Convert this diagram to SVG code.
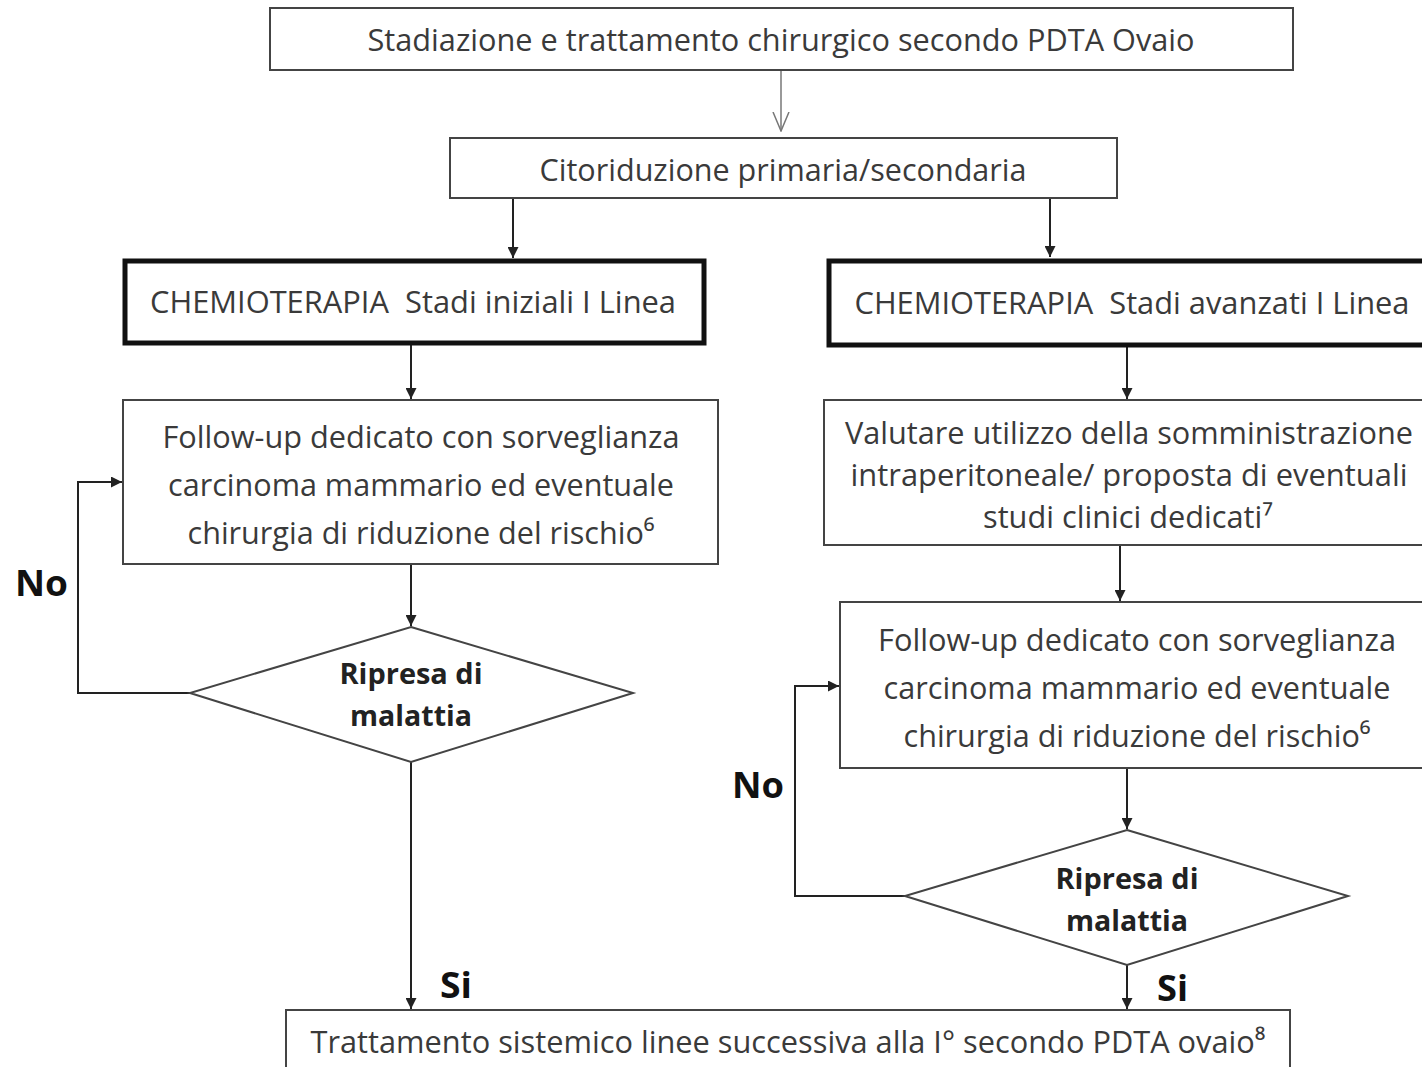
<svg xmlns="http://www.w3.org/2000/svg" width="1422" height="1067" viewBox="0 0 1422 1067">
<defs>
<marker id="arr" viewBox="0 0 10 10" refX="10" refY="5" markerWidth="12" markerHeight="11" markerUnits="userSpaceOnUse" orient="auto">
<path d="M0,0 L10,5 L0,10 z" fill="#222"/>
</marker>
<marker id="open" viewBox="0 0 20 20" refX="19" refY="10" markerWidth="20" markerHeight="20" markerUnits="userSpaceOnUse" orient="auto">
<path d="M0,2 L19,10 L0,18" fill="none" stroke="#777" stroke-width="1.5"/>
</marker>
<style>
.box{fill:#fff;stroke:#444;stroke-width:2}
.thick{fill:#fff;stroke:#111;stroke-width:5}
.t{font-family:"Open Sans","Noto Sans","Liberation Sans",sans-serif;font-size:31px;fill:#3a3a3a;text-anchor:middle}
.b{font-family:"Open Sans","Noto Sans","Liberation Sans",sans-serif;font-size:29px;font-weight:bold;fill:#222;text-anchor:middle}
.lbl{font-family:"Open Sans","Noto Sans","Liberation Sans",sans-serif;font-size:35px;font-weight:bold;fill:#111}
.c{fill:none;stroke:#222;stroke-width:2}
</style>
</defs>
<rect width="1422" height="1067" fill="#fff"/>
<g id="connectors">
<line x1="781" y1="70" x2="781" y2="131" stroke="#777" stroke-width="1.5" marker-end="url(#open)"/>
<line class="c" x1="513" y1="198" x2="513" y2="258" marker-end="url(#arr)"/>
<line class="c" x1="1050" y1="198" x2="1050" y2="257" marker-end="url(#arr)"/>
<line class="c" x1="411" y1="345" x2="411" y2="399" marker-end="url(#arr)"/>
<line class="c" x1="411" y1="564" x2="411" y2="626" marker-end="url(#arr)"/>
<polyline class="c" points="190,693 78,693 78,482 122,482" marker-end="url(#arr)"/>
<line class="c" x1="411" y1="762" x2="411" y2="1009" marker-end="url(#arr)"/>
<line class="c" x1="1127" y1="347" x2="1127" y2="399" marker-end="url(#arr)"/>
<line class="c" x1="1120" y1="545" x2="1120" y2="601" marker-end="url(#arr)"/>
<line class="c" x1="1127" y1="768" x2="1127" y2="829" marker-end="url(#arr)"/>
<polyline class="c" points="905,896 795,896 795,686 839,686" marker-end="url(#arr)"/>
<line class="c" x1="1127" y1="965" x2="1127" y2="1009" marker-end="url(#arr)"/>
</g>
<g id="n-top">
<rect class="box" x="270" y="8" width="1023" height="62"/>
<text class="t" x="781" y="51" textLength="827" lengthAdjust="spacingAndGlyphs">Stadiazione e trattamento chirurgico secondo PDTA Ovaio</text>
</g>
<g id="n-citoriduzione">
<rect class="box" x="450" y="138" width="667" height="60"/>
<text class="t" x="783" y="181" textLength="487" lengthAdjust="spacingAndGlyphs">Citoriduzione primaria/secondaria</text>
</g>
<g id="n-chemio-iniziali">
<rect class="thick" x="125" y="261" width="579" height="82"/>
<text class="t" x="413" y="313" textLength="526" lengthAdjust="spacingAndGlyphs" xml:space="preserve">CHEMIOTERAPIA  Stadi iniziali I Linea</text>
</g>
<g id="n-chemio-avanzati">
<rect class="thick" x="829" y="261" width="600" height="84"/>
<text class="t" x="1132" y="314" textLength="555" lengthAdjust="spacingAndGlyphs" xml:space="preserve">CHEMIOTERAPIA  Stadi avanzati I Linea</text>
</g>
<g id="n-followup-left">
<rect class="box" x="123" y="400" width="595" height="164"/>
<text class="t" x="421" y="448" textLength="517" lengthAdjust="spacingAndGlyphs">Follow-up dedicato con sorveglianza</text>
<text class="t" x="421" y="496" textLength="506" lengthAdjust="spacingAndGlyphs">carcinoma mammario ed eventuale</text>
<text class="t" x="421" y="544" textLength="467" lengthAdjust="spacingAndGlyphs">chirurgia di riduzione del rischio⁶</text>
</g>
<g id="n-diamond-left">
<polygon points="411,627 633,693 411,762 190,693" fill="#fff" stroke="#444" stroke-width="2"/>
<text class="b" x="411" y="684" textLength="143" lengthAdjust="spacingAndGlyphs">Ripresa di</text>
<text class="b" x="411" y="726" textLength="122" lengthAdjust="spacingAndGlyphs">malattia</text>
</g>
<g id="n-valutare">
<rect class="box" x="824" y="400" width="610" height="145"/>
<text class="t" x="1129" y="444" textLength="568" lengthAdjust="spacingAndGlyphs">Valutare utilizzo della somministrazione</text>
<text class="t" x="1129" y="486" textLength="557" lengthAdjust="spacingAndGlyphs">intraperitoneale/ proposta di eventuali</text>
<text class="t" x="1128" y="528" textLength="290" lengthAdjust="spacingAndGlyphs">studi clinici dedicati⁷</text>
</g>
<g id="n-followup-right">
<rect class="box" x="840" y="602" width="594" height="166"/>
<text class="t" x="1137" y="651" textLength="518" lengthAdjust="spacingAndGlyphs">Follow-up dedicato con sorveglianza</text>
<text class="t" x="1137" y="699" textLength="507" lengthAdjust="spacingAndGlyphs">carcinoma mammario ed eventuale</text>
<text class="t" x="1137" y="747" textLength="467" lengthAdjust="spacingAndGlyphs">chirurgia di riduzione del rischio⁶</text>
</g>
<g id="n-diamond-right">
<polygon points="1127,830 1348,896 1127,965 905,896" fill="#fff" stroke="#444" stroke-width="2"/>
<text class="b" x="1127" y="889" textLength="143" lengthAdjust="spacingAndGlyphs">Ripresa di</text>
<text class="b" x="1127" y="931" textLength="122" lengthAdjust="spacingAndGlyphs">malattia</text>
</g>
<g id="n-bottom">
<rect class="box" x="286" y="1010" width="1004" height="70"/>
<text class="t" x="788" y="1053" textLength="955" lengthAdjust="spacingAndGlyphs">Trattamento sistemico linee successiva alla I° secondo PDTA ovaio⁸</text>
</g>
<g id="labels">
<text class="lbl" x="15" y="596" textLength="53" lengthAdjust="spacingAndGlyphs">No</text>
<text class="lbl" x="732" y="798" textLength="52" lengthAdjust="spacingAndGlyphs">No</text>
<text class="lbl" x="440" y="998" textLength="32" lengthAdjust="spacingAndGlyphs">Si</text>
<text class="lbl" x="1157" y="1001" textLength="31" lengthAdjust="spacingAndGlyphs">Si</text>
</g>
</svg>
